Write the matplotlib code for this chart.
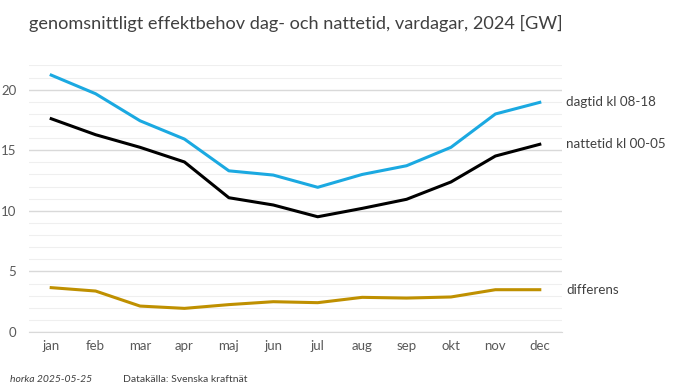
import numpy as np
import matplotlib.pyplot as plt

plt.rcParams['font.family'] = ['Lato', 'DejaVu Sans']

# data
months = ['jan', 'feb', 'mar', 'apr', 'maj', 'jun', 'jul', 'aug', 'sep', 'okt', 'nov', 'dec']
dagtid = [21.2, 19.66, 17.43, 15.92, 13.3, 12.95, 11.94, 13.0, 13.72, 15.24, 17.99, 18.95]
nattetid = [17.6, 16.28, 15.24, 14.03, 11.08, 10.48, 9.51, 10.2, 10.95, 12.38, 14.52, 15.49]
differens = [3.66, 3.38, 2.14, 1.95, 2.26, 2.5, 2.42, 2.86, 2.8, 2.89, 3.49, 3.49]

labels = ['dagtid kl 08-18', 'nattetid kl 00-05', 'differens']
colors = ['#1BA9E1', '#000000', '#BF9000']

fig = plt.figure(figsize=(7, 3.88), dpi=100)
ax = fig.add_axes([29/700, 1 - 332/388, (562 - 29)/700, (332 - 65.4)/388])

x = np.arange(len(months))
for series, lab, c in zip([dagtid, nattetid, differens], labels, colors):
    ax.plot(x, series, color=c, linewidth=2.2, solid_joinstyle='round', zorder=3)
    ax.text(11.6, series[-1], lab, color='#404040', fontsize=9.6, va='center', ha='left',
            clip_on=False)

ax.set_xlim(-0.5, 11.5)
ax.set_ylim(0, 22)
ax.set_yticks([0, 5, 10, 15, 20])
ax.set_yticks(np.arange(1, 23), minor=True)
ax.set_xticks(x)
ax.set_xticklabels(months)

ax.grid(axis='y', which='minor', color='#EFEFEF', linewidth=0.8, zorder=0)
ax.grid(axis='y', which='major', color='#D9D9D9', linewidth=1.0, zorder=1)
for s in ['top', 'right', 'left']:
    ax.spines[s].set_visible(False)
ax.spines['bottom'].set_color('#D9D9D9')
ax.tick_params(which='both', length=0)
ax.tick_params(axis='both', colors='#595959', labelsize=9.5)
ax.tick_params(axis='x', pad=6)
ax.tick_params(axis='y', pad=9)

fig.text(29/700, 1 - 23/388, 'genomsnittligt effektbehov dag- och nattetid, vardagar, 2024 [GW]',
         fontsize=13.1, color='#404040', va='center', ha='left')
fig.text(10/700, 1 - 380/388, 'horka 2025-05-25', fontsize=7.5, style='italic',
         color='#404040', va='center', ha='left')
fig.text(123/700, 1 - 380/388, 'Datakälla: Svenska kraftnät', fontsize=7.5,
         color='#404040', va='center', ha='left')

plt.savefig('out.png', dpi=100)
